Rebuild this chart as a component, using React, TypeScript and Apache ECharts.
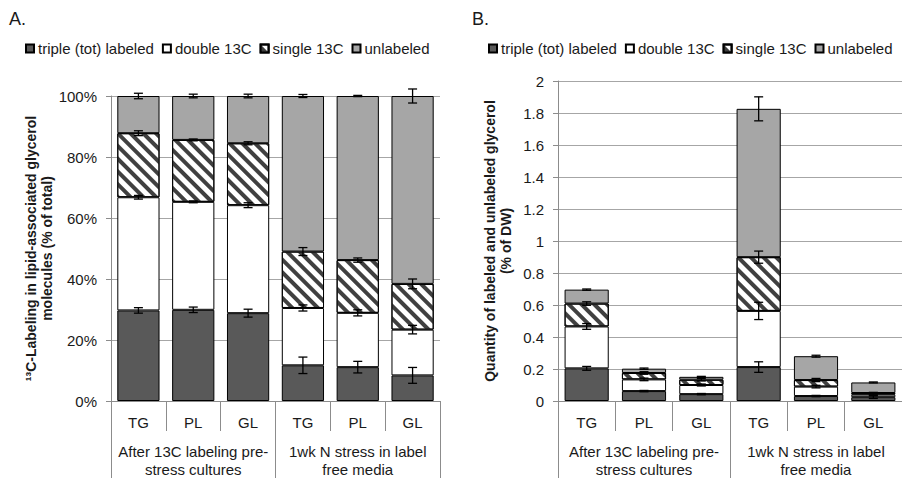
import React, { useEffect, useRef } from "react";
import * as echarts from "echarts";

const categories = ["TG", "PL", "GL", "TG", "PL", "GL"];
const groups = ["After 13C labeling pre-\nstress cultures", "1wk N stress in label\nfree media"];
const seriesNames = ["triple (tot) labeled", "double 13C", "single 13C", "unlabeled"];

// Panel A: % of total
const tripleA = [29.7, 29.9, 28.8, 11.7, 11.1, 8.4];
const doubleA = [37.1, 35.4, 35.4, 18.8, 17.8, 15.0];
const singleA = [21.0, 20.3, 20.3, 18.5, 17.3, 15.0];
const unlabeledA = [12.2, 14.4, 15.5, 51.0, 53.8, 61.6];
const tripleErrA = [0.9, 0.9, 1.3, 2.7, 1.9, 2.6];
const doubleErrA = [0.6, 0.3, 0.8, 1.0, 1.0, 1.4];
const singleErrA = [0.8, 0.3, 0.5, 1.3, 0.7, 1.6];
const unlabeledErrA = [0.9, 0.6, 0.6, 0.5, 0.2, 2.3];

// Panel B: % of DW
const tripleB = [0.204, 0.062, 0.043, 0.212, 0.031, 0.024];
const doubleB = [0.262, 0.073, 0.057, 0.351, 0.059, 0.016];
const singleB = [0.143, 0.040, 0.033, 0.336, 0.041, 0.010];
const unlabeledB = [0.087, 0.027, 0.018, 0.927, 0.149, 0.066];
const tripleErrB = [0.012, 0.004, 0.004, 0.033, 0.004, 0.008];
const doubleErrB = [0.018, 0.008, 0.006, 0.054, 0.008, 0.004];
const singleErrB = [0.011, 0.008, 0.008, 0.038, 0.010, 0.004];
const unlabeledErrB = [0.004, 0.004, 0.003, 0.075, 0.006, 0.003];

const yTicksA = { min: 0, max: 100, interval: 20 };
const yTicksB = { min: 0, max: 2, interval: 0.2 };

const FONT = "Liberation Sans";
const TXT = "#1a1a1a";
const AXIS_GREY = "#8c8c8c";
const GRID_GREY = "#a6a6a6";

const segStyles = [
  { color: "#595959", borderColor: "#000", borderWidth: 1 },
  { color: "#ffffff", borderColor: "#000", borderWidth: 1 },
  {
    color: "#ffffff",
    borderColor: "#000",
    borderWidth: 1,
    decal: {
      symbol: "rect",
      symbolSize: 1,
      dashArrayX: [1, 0],
      dashArrayY: [3.5, 4.5],
      rotation: Math.PI / 4,
      color: "#404040",
      backgroundColor: "#ffffff",
    },
  },
  { color: "#a6a6a6", borderColor: "#000", borderWidth: 1 },
];

function errorData(segs: number[][], errs: number[][]) {
  const out: number[][] = [];
  for (let i = 0; i < categories.length; i++) {
    let cum = 0;
    for (let s = 0; s < segs.length; s++) {
      cum += segs[s][i];
      out.push([i, cum, errs[s][i]]);
    }
  }
  return out;
}

function renderErr(params: any, api: any) {
  const x = api.value(0);
  const top = api.value(1);
  const err = api.value(2);
  const hi = api.coord([x, top + err]);
  const lo = api.coord([x, top - err]);
  const w = 4.5;
  const st = { stroke: "#000", lineWidth: 1.3 };
  return {
    type: "group",
    children: [
      { type: "line", shape: { x1: hi[0], y1: hi[1], x2: lo[0], y2: lo[1] }, style: st },
      { type: "line", shape: { x1: hi[0] - w, y1: hi[1], x2: hi[0] + w, y2: hi[1] }, style: st },
      { type: "line", shape: { x1: lo[0] - w, y1: lo[1], x2: lo[0] + w, y2: lo[1] }, style: st },
    ],
  };
}

function catAxes(gridIndex: number) {
  return [
    {
      type: "category",
      gridIndex,
      position: "bottom",
      data: categories,
      boundaryGap: true,
      axisLine: { show: true, lineStyle: { color: AXIS_GREY, width: 1 } },
      axisTick: { show: true, interval: 0, length: 30, lineStyle: { color: AXIS_GREY } },
      axisLabel: { interval: 0, margin: 13, fontSize: 15, lineHeight: 16, color: TXT, fontFamily: FONT },
      splitLine: { show: false },
    },
    {
      type: "category",
      gridIndex,
      position: "bottom",
      data: groups,
      boundaryGap: true,
      axisLine: { show: false },
      axisTick: { show: true, interval: 0, length: 78, lineStyle: { color: AXIS_GREY } },
      axisLabel: { interval: 0, margin: 41, fontSize: 15, lineHeight: 18, color: TXT, fontFamily: FONT },
      splitLine: { show: false },
    },
  ];
}

function yAxis(gridIndex: number, ticks: any, name: string, nameGap: number, pct: boolean) {
  return {
    type: "value",
    gridIndex,
    min: ticks.min,
    max: ticks.max,
    interval: ticks.interval,
    name,
    nameLocation: "middle",
    nameRotate: 90,
    nameGap,
    nameTextStyle: { fontSize: 14, fontWeight: "bold", lineHeight: 16, color: TXT, fontFamily: FONT, align: "center" },
    axisLine: { show: true, lineStyle: { color: AXIS_GREY, width: 1 } },
    axisTick: { show: true, length: 5, lineStyle: { color: AXIS_GREY } },
    axisLabel: {
      margin: 14,
      fontSize: 15,
      color: TXT,
      fontFamily: FONT,
      formatter: pct ? "{value}%" : undefined,
    },
    splitLine: { show: true, lineStyle: { color: GRID_GREY, width: 1 } },
  };
}

function barSeries(segs: number[][], xAxisIndex: number, yAxisIndex: number, stack: string) {
  return segs.map((d, s) => ({
    type: "bar",
    name: seriesNames[s],
    stack,
    xAxisIndex,
    yAxisIndex,
    data: d,
    barCategoryGap: "23%",
    itemStyle: segStyles[s],
    emphasis: { disabled: true },
  }));
}

export default function App() {
  const ref = useRef<HTMLDivElement>(null);
  useEffect(() => {
    if (!ref.current) return;
    const chart = echarts.init(ref.current, undefined, { renderer: "svg" });
    const segsA = [tripleA, doubleA, singleA, unlabeledA];
    const errsA = [tripleErrA, doubleErrA, singleErrA, unlabeledErrA];
    const segsB = [tripleB, doubleB, singleB, unlabeledB];
    const errsB = [tripleErrB, doubleErrB, singleErrB, unlabeledErrB];
    const legendBase = {
      top: 36,
      itemWidth: 8,
      itemHeight: 8,
      itemGap: 8,
      icon: "rect",
      selectedMode: false,
      data: seriesNames,
      textStyle: { fontSize: 15, color: TXT, fontFamily: FONT, padding: [0, 0, 0, -1] },
    };
    chart.setOption({
      animation: false,
      textStyle: { fontFamily: FONT },
      graphic: [
        { type: "text", left: 9, top: 10, style: { text: "A.", fontSize: 18, fill: TXT, fontFamily: FONT } },
        { type: "text", left: 472, top: 10, style: { text: "B.", fontSize: 18, fill: TXT, fontFamily: FONT } },
      ],
      legend: [
        { ...legendBase, left: 20 },
        { ...legendBase, left: 483 },
      ],
      grid: [
        { left: 111, top: 96, width: 329, height: 306, containLabel: false },
        { left: 558, top: 81, width: 348, height: 321, containLabel: false },
      ],
      xAxis: [...catAxes(0), ...catAxes(1)],
      yAxis: [
        yAxis(0, yTicksA, "¹³C-Labeling in lipid-associated glycerol\nmolecules (% of total)", 54, true),
        yAxis(1, yTicksB, "Quantity of labeled and unlabeled glycerol\n(% of DW)", 44, false),
      ],
      series: [
        ...barSeries(segsA, 0, 0, "A"),
        ...barSeries(segsB, 2, 1, "B"),
        {
          type: "custom",
          xAxisIndex: 0,
          yAxisIndex: 0,
          z: 5,
          renderItem: renderErr,
          encode: { x: 0, y: 1 },
          data: errorData(segsA, errsA),
          silent: true,
        },
        {
          type: "custom",
          xAxisIndex: 2,
          yAxisIndex: 1,
          z: 5,
          renderItem: renderErr,
          encode: { x: 0, y: 1 },
          data: errorData(segsB, errsB),
          silent: true,
        },
      ],
    });
    return () => chart.dispose();
  }, []);
  return (
    <div
      ref={ref}
      style={{ position: "fixed", left: 0, top: 0, width: 902, height: 478, background: "#fff" }}
    />
  );
}
